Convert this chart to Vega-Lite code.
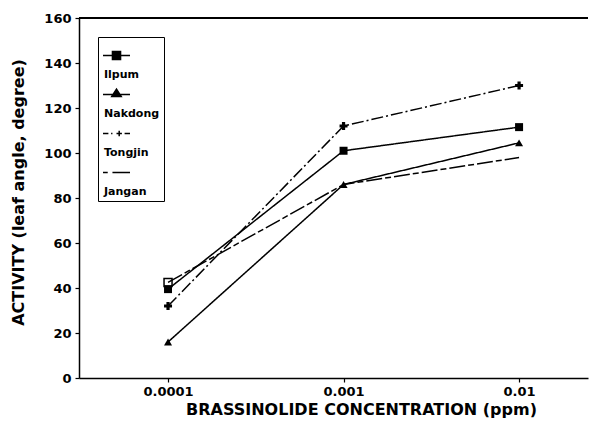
{
  "$schema": "https://vega.github.io/schema/vega-lite/v6.json",
  "width": 509,
  "height": 360,
  "autosize": {"type": "none"},
  "padding": {"left": 79, "top": 18, "right": 15, "bottom": 46},
  "background": "white",
  "config": {
    "view": {"stroke": null},
    "font": "DejaVu Sans",
    "axis": {
      "grid": false,
      "domainColor": "black",
      "domainWidth": 1.5,
      "tickColor": "black",
      "tickWidth": 1.2,
      "tickSize": 4,
      "labelColor": "black",
      "titleColor": "black",
      "labelFont": "DejaVu Sans",
      "titleFont": "DejaVu Sans",
      "labelFontSize": 13,
      "titleFontSize": 16,
      "labelFontWeight": "bold",
      "titleFontWeight": "bold"
    }
  },
  "data": {
    "values": [
      {"series": "Ilpum", "conc": 0.0001, "activity": 39.5},
      {"series": "Ilpum", "conc": 0.001, "activity": 101},
      {"series": "Ilpum", "conc": 0.01, "activity": 111.5},
      {"series": "Nakdong", "conc": 0.0001, "activity": 16},
      {"series": "Nakdong", "conc": 0.001, "activity": 86},
      {"series": "Nakdong", "conc": 0.01, "activity": 104.5},
      {"series": "Tongjin", "conc": 0.0001, "activity": 32},
      {"series": "Tongjin", "conc": 0.001, "activity": 112},
      {"series": "Tongjin", "conc": 0.01, "activity": 130},
      {"series": "Jangan", "conc": 0.0001, "activity": 42.5},
      {"series": "Jangan", "conc": 0.001, "activity": 86},
      {"series": "Jangan", "conc": 0.01, "activity": 98}
    ]
  },
  "encoding": {
    "x": {
      "field": "conc",
      "type": "quantitative",
      "scale": {"type": "log", "domain": [0.0000311, 0.0247], "nice": false},
      "axis": {
        "values": [0.0001, 0.001, 0.01],
        "format": ".4~f",
        "title": "BRASSINOLIDE CONCENTRATION (ppm)",
        "labelPadding": 3,
        "titlePadding": 3,
        "titleX": 282,
        "titleAnchor": "middle"
      }
    },
    "y": {
      "field": "activity",
      "type": "quantitative",
      "scale": {"domain": [0, 160], "nice": false},
      "axis": {
        "values": [0, 20, 40, 60, 80, 100, 120, 140, 160],
        "title": "ACTIVITY (leaf angle, degree)",
        "labelPadding": 4,
        "titlePadding": 17,
        "titleY": 174,
        "titleAnchor": "middle"
      }
    }
  },
  "layer": [
    {
      "mark": {"type": "rule", "color": "black", "strokeWidth": 1.5},
      "encoding": {"x": null, "y": {"datum": 160, "type": "quantitative"}}
    },
    {
      "mark": {"type": "line", "color": "black", "strokeWidth": 1.5},
      "encoding": {
        "detail": {"field": "series", "type": "nominal"},
        "strokeDash": {
          "field": "series",
          "type": "nominal",
          "scale": {
            "domain": ["Ilpum", "Nakdong", "Tongjin", "Jangan"],
            "range": [[1, 0], [1, 0], [12, 3, 2, 3], [16, 3, 6, 3]]
          },
          "legend": null
        }
      }
    },
    {
      "transform": [{"filter": "datum.series === 'Jangan' && datum.conc === 0.0001"}],
      "mark": {"type": "point", "shape": "square", "filled": false, "color": "black", "strokeWidth": 1.5, "size": 64, "opacity": 1}
    },
    {
      "transform": [{"filter": "datum.series !== 'Jangan'"}],
      "mark": {"type": "point", "filled": true, "color": "black", "opacity": 1},
      "encoding": {
        "shape": {
          "field": "series",
          "type": "nominal",
          "scale": {
            "domain": ["Ilpum", "Nakdong", "Tongjin"],
            "range": ["square", "triangle-up", "cross"]
          },
          "legend": null
        },
        "size": {
          "field": "series",
          "type": "nominal",
          "scale": {"domain": ["Ilpum", "Nakdong", "Tongjin"], "range": [64, 64, 36]},
          "legend": null
        }
      }
    },
    {
      "mark": {"type": "point", "filled": true, "fill": "black", "stroke": "black", "strokeWidth": 1.5, "opacity": 0},
      "encoding": {
        "shape": {
          "field": "series",
          "type": "nominal",
          "scale": {
            "domain": ["Ilpum", "Nakdong", "Tongjin", "Jangan"],
            "range": [
              "M-1,0H-0.3M0.3,0H1M-0.3,-0.3H0.3V0.3H-0.3Z",
              "M-1,0H1M-0.35,0.15L0,-0.4L0.35,0.15Z",
              "M-1,0H-0.6M-0.4,0H-0.3M0,0H0.4M0.2,-0.2V0.2M0.6,0H1",
              "M-1,0H-0.65M-0.3,0H1"
            ]
          },
          "legend": {
            "title": null,
            "orient": "top-left",
            "offset": 19,
            "strokeColor": "black",
            "padding": 4,
            "labelFont": "DejaVu Sans",
            "labelFontSize": 11,
            "labelFontWeight": "bold",
            "labelColor": "black",
            "symbolSize": 729,
            "symbolStrokeWidth": 1.5,
            "labelOffset": -27,
            "labelBaseline": "top",
            "labelExpr": "['', datum.label]",
            "rowPadding": 0,
            "encoding": {
              "symbols": {
                "update": {
                  "fill": {"value": "black"},
                  "stroke": {"value": "black"},
                  "strokeWidth": {"value": 1.5},
                  "opacity": {"value": 1}
                }
              }
            }
          }
        }
      }
    }
  ],
  "resolve": {"scale": {"shape": "independent", "size": "independent"}}
}
